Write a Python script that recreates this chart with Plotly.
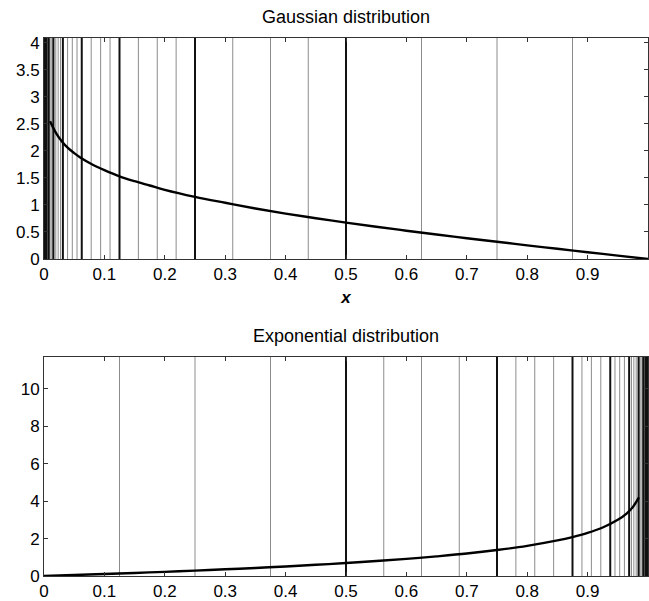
import plotly.graph_objects as go

# ---------------- data ----------------
gauss_x = [0.01, 0.02, 0.03, 0.04, 0.05, 0.06, 0.08, 0.10, 0.125, 0.15, 0.175, 0.20,
           0.25, 0.30, 0.35, 0.40, 0.45, 0.50, 0.55, 0.60, 0.65, 0.70, 0.75, 0.80,
           0.85, 0.90, 0.95, 1.00]
gauss_y = [2.55, 2.33, 2.17, 2.05, 1.96, 1.88, 1.75, 1.645, 1.53, 1.44, 1.36, 1.28,
           1.15, 1.04, 0.935, 0.84, 0.755, 0.674, 0.598, 0.524, 0.454, 0.385, 0.319, 0.253,
           0.189, 0.126, 0.063, 0.0]

exp_x = [0.0, 0.05, 0.10, 0.15, 0.20, 0.25, 0.30, 0.35, 0.40, 0.45, 0.50, 0.55, 0.60,
         0.65, 0.70, 0.75, 0.80, 0.85, 0.875, 0.90, 0.925, 0.95, 0.965, 0.975, 0.985]
exp_y = [0.0, 0.051, 0.105, 0.163, 0.223, 0.288, 0.357, 0.431, 0.511, 0.598, 0.693, 0.799, 0.916,
         1.05, 1.20, 1.386, 1.61, 1.90, 2.08, 2.30, 2.59, 3.0, 3.35, 3.69, 4.2]

gauss_thick = [0.5, 0.25, 0.125, 0.0625, 0.03125, 0.015625, 0.0078125, 0.00390625,
               0.001953125, 0.0009765625]
gauss_thin = [0.875, 0.75, 0.625, 0.4375, 0.375, 0.3125, 0.21875, 0.1875, 0.15625,
              0.109375, 0.09375, 0.078125, 0.0546875, 0.046875, 0.0390625,
              0.02734375, 0.0234375, 0.01953125, 0.013671875, 0.01171875, 0.009765625,
              0.0068359375, 0.005859375, 0.0048828125, 0.00341796875, 0.0029296875,
              0.00244140625]

exp_thick = [0.5, 0.75, 0.875, 0.9375, 0.96875, 0.984375, 0.9921875, 0.99609375,
             0.998046875, 0.9990234375]
exp_thin = [0.125, 0.25, 0.375, 0.5625, 0.625, 0.6875, 0.78125, 0.8125, 0.84375,
            0.890625, 0.90625, 0.921875, 0.9453125, 0.953125, 0.9609375,
            0.97265625, 0.9765625, 0.98046875, 0.986328125, 0.98828125, 0.990234375,
            0.9931640625, 0.994140625, 0.9951171875, 0.99658203125, 0.9970703125,
            0.99755859375]

x_ticks = [0, 0.1, 0.2, 0.3, 0.4, 0.5, 0.6, 0.7, 0.8, 0.9, 1]
x_tick_labels = ["0", "0.1", "0.2", "0.3", "0.4", "0.5", "0.6", "0.7", "0.8", "0.9", "1"]
gauss_y_ticks = [0, 0.5, 1, 1.5, 2, 2.5, 3, 3.5, 4]
gauss_y_labels = ["0", "0.5", "1", "1.5", "2", "2.5", "3", "3.5", "4"]
exp_y_ticks = [0, 2, 4, 6, 8, 10]
exp_y_labels = ["0", "2", "4", "6", "8", "10"]

titles = ["Gaussian distribution", "Exponential distribution"]
x_label = "x"

# ---------------- figure ----------------
FONT = "Liberation Sans, Arial, sans-serif"
W, H = 649, 601
ML, MR, MT, MB = 44, 1, 38, 25

fig = go.Figure()

THIN = dict(color="#8c8c8c", width=1)
THICK = dict(color="#111111", width=2)

shapes = []
for xv in gauss_thin:
    shapes.append(dict(type="line", xref="x", yref="y domain", x0=xv, x1=xv, y0=0, y1=1,
                       line=THIN, layer="below"))
for xv in gauss_thick:
    shapes.append(dict(type="line", xref="x", yref="y domain", x0=xv, x1=xv, y0=0, y1=1,
                       line=THICK, layer="below"))
for xv in exp_thin:
    shapes.append(dict(type="line", xref="x2", yref="y2 domain", x0=xv, x1=xv, y0=0, y1=1,
                       line=THIN, layer="below"))
for xv in exp_thick:
    shapes.append(dict(type="line", xref="x2", yref="y2 domain", x0=xv, x1=xv, y0=0, y1=1,
                       line=THICK, layer="below"))

fig.add_trace(go.Scatter(x=gauss_x, y=gauss_y, mode="lines", line=dict(color="black", width=2.4, shape="spline"),
                         xaxis="x", yaxis="y", showlegend=False, hoverinfo="skip"))
fig.add_trace(go.Scatter(x=exp_x, y=exp_y, mode="lines", line=dict(color="black", width=2.4, shape="spline"),
                         xaxis="x2", yaxis="y2", showlegend=False, hoverinfo="skip"))

plot_h = H - MT - MB
top_dom = [(H - MB - 259) / plot_h, 1.0]
bot_dom = [0.0, (H - MB - 357) / plot_h]

axis_common = dict(showgrid=False, zeroline=False, showline=True, linecolor="#333333", linewidth=1,
                   mirror="ticks", ticks="inside", ticklen=4, tickcolor="#333333",
                   tickfont=dict(family=FONT, size=17, color="black"))

fig.update_layout(
    width=W, height=H,
    margin=dict(l=ML, r=MR, t=MT, b=MB, pad=0),
    paper_bgcolor="white", plot_bgcolor="white",
    shapes=shapes,
    xaxis=dict(axis_common, domain=[0, 1], range=[0, 1], tickvals=x_ticks, ticktext=x_tick_labels,
               anchor="y",
               title=dict(text="<b><i>" + x_label + "</i></b>", font=dict(family=FONT, size=17, color="black"),
                          standoff=7)),
    yaxis=dict(axis_common, domain=top_dom, range=[0, 4.09], tickvals=gauss_y_ticks,
               ticktext=gauss_y_labels, anchor="x"),
    xaxis2=dict(axis_common, domain=[0, 1], range=[0, 1], tickvals=x_ticks, ticktext=x_tick_labels,
                anchor="y2"),
    yaxis2=dict(axis_common, domain=bot_dom, range=[0, 11.7], tickvals=exp_y_ticks,
                ticktext=exp_y_labels, anchor="x2"),
    annotations=[
        dict(text=titles[0], xref="paper", yref="paper", x=0.5, y=top_dom[1], yshift=9,
             xanchor="center", yanchor="bottom", showarrow=False,
             font=dict(family=FONT, size=18, color="black")),
        dict(text=titles[1], xref="paper", yref="paper", x=0.5, y=bot_dom[1], yshift=9,
             xanchor="center", yanchor="bottom", showarrow=False,
             font=dict(family=FONT, size=18, color="black")),
    ],
)

fig.write_html("out.html")
